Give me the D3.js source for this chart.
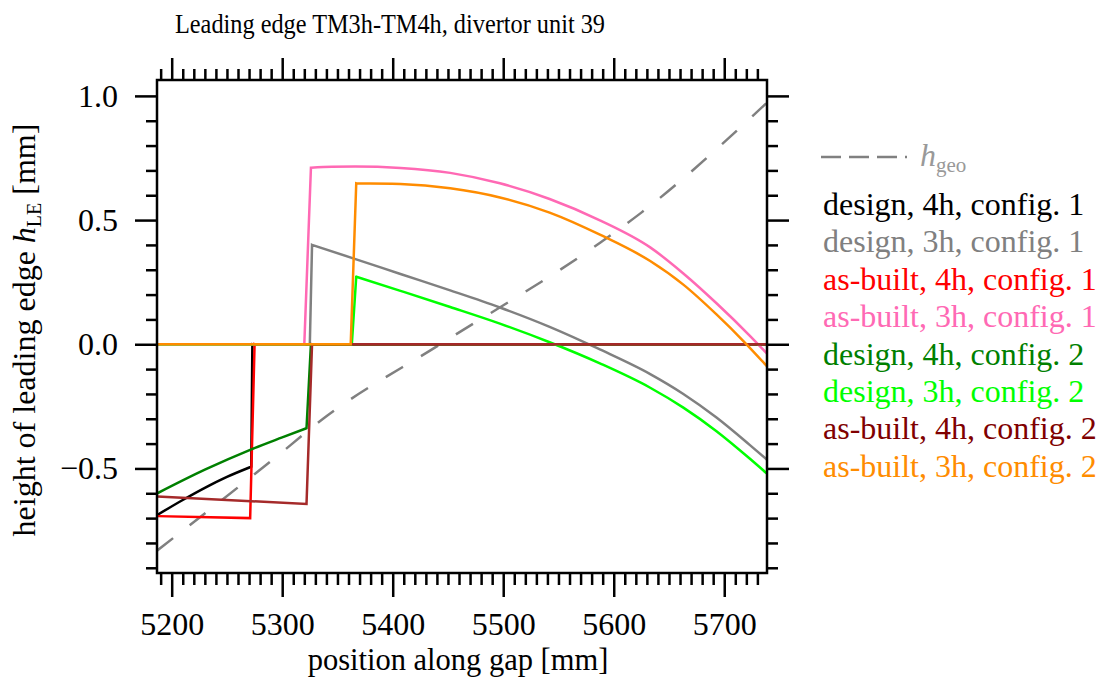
<!DOCTYPE html>
<html>
<head>
<meta charset="utf-8">
<script src="https://cdn.jsdelivr.net/npm/d3@7"></script>
<style>
  body { margin: 0; background: #fff; }
  text { font-family: "Liberation Serif", "Times New Roman", serif; }
</style>
</head>
<body>
<div id="chart"></div>
<script>
// chart size and plot box
const width = 1103;
const height = 678;
const margin = { top: 80, bottom: 105, left: 157, right: 336 };

// tick values
const xMajorTicks = [5200, 5300, 5400, 5500, 5600, 5700];
const yMajorTicks = [-0.5, 0.0, 0.5, 1.0];

// series: [position mm, height mm]
const hGeo = [[5187, -0.83], [5290, -0.47], [5340, -0.29], [5443, 0.0], [5588, 0.41], [5625, 0.53], [5738, 0.97]];
const design4hConfig1 = [[5187, -0.687], [5210, -0.627], [5230, -0.578], [5250, -0.534], [5272, -0.493], [5273, 0.0], [5739, 0.0]];
const design3hConfig1 = [[5187, 0.0], [5325, 0.0], [5327, 0.40], [5367, 0.342], [5407, 0.283], [5452, 0.217], [5497, 0.148], [5542, 0.07], [5588, -0.022], [5633, -0.12], [5663, -0.2], [5693, -0.295], [5723, -0.405], [5739, -0.466]];
const asBuilt4hConfig1 = [[5187, -0.692], [5271, -0.700], [5275, 0.0], [5739, 0.0]];
const asBuilt3hConfig1 = [[5187, 0.0], [5320, 0.0], [5326, 0.711], [5345, 0.715], [5366, 0.716], [5407, 0.71], [5452, 0.69], [5497, 0.648], [5542, 0.585], [5588, 0.498], [5633, 0.39], [5663, 0.285], [5693, 0.165], [5723, 0.035], [5739, -0.039]];
const design4hConfig2 = [[5187, -0.600], [5230, -0.505], [5271, -0.425], [5300, -0.375], [5322, -0.338], [5326, 0.0], [5739, 0.0]];
const design3hConfig2 = [[5187, 0.0], [5363, 0.0], [5367, 0.272], [5407, 0.215], [5452, 0.15], [5497, 0.083], [5542, 0.008], [5588, -0.078], [5633, -0.175], [5663, -0.255], [5693, -0.35], [5723, -0.46], [5739, -0.522]];
const asBuilt4hConfig2 = [[5187, -0.613], [5322, -0.643], [5327, 0.0], [5739, 0.0]];
const asBuilt3hConfig2 = [[5187, 0.0], [5362, 0.0], [5367, 0.648], [5407, 0.645], [5452, 0.628], [5497, 0.591], [5542, 0.53], [5588, 0.44], [5633, 0.335], [5663, 0.24], [5693, 0.12], [5718, 0.01], [5739, -0.09]];

const seriesLabels = ["design, 4h, config. 1", "design, 3h, config. 1", "as-built, 4h, config. 1", "as-built, 3h, config. 1",
                      "design, 4h, config. 2", "design, 3h, config. 2", "as-built, 4h, config. 2", "as-built, 3h, config. 2"];
const seriesData = [design4hConfig1, design3hConfig1, asBuilt4hConfig1, asBuilt3hConfig1,
                    design4hConfig2, design3hConfig2, asBuilt4hConfig2, asBuilt3hConfig2];
const lineColors = ["#000000", "#808080", "#ff0000", "#ff69b4", "#008000", "#00ff00", "#a52a2a", "#ff8c00"];
const textColors = ["#000000", "#808080", "#ff0000", "#ff69b4", "#008000", "#00ff00", "#800000", "#ff8c00"];

const plotW = width - margin.left - margin.right;
const plotH = height - margin.top - margin.bottom;

const svg = d3.select("#chart").append("svg")
    .attr("width", width)
    .attr("height", height);

const g = svg.append("g")
    .attr("transform", "translate(" + margin.left + "," + margin.top + ")");

// scales
const x = d3.scaleLinear().domain([5186.7, 5738.7]).range([0, plotW]);
const y = d3.scaleLinear().domain([-0.921, 1.064]).range([plotH, 0]);

const xMinor = d3.range(5190, 5740, 10).filter(v => xMajorTicks.indexOf(v) < 0);
const yMinor = d3.range(-9, 11).map(v => v / 10).filter(v => yMajorTicks.indexOf(v) < 0);

g.append("defs").append("clipPath").attr("id", "clip")
    .append("rect").attr("width", plotW).attr("height", plotH);

// lines: smooth runs use monotone curve, the steep jumps stay straight
const smooth = d3.line().x(d => x(d[0])).y(d => y(d[1])).curve(d3.curveMonotoneX);
const straight = d3.line().x(d => x(d[0])).y(d => y(d[1]));

function seriesPath(pts) {
  let d = "";
  let run = [pts[0]];
  for (let i = 1; i < pts.length; i++) {
    const steep = Math.abs((pts[i][1] - pts[i - 1][1]) / (pts[i][0] - pts[i - 1][0])) > 0.02;
    if (steep) {
      if (run.length > 1) d += smooth(run).replace(/^M/, d ? "L" : "M");
      d += (d ? "" : straight([pts[i - 1]])) + "L" + x(pts[i][0]) + "," + y(pts[i][1]);
      run = [pts[i]];
    } else {
      run.push(pts[i]);
    }
  }
  if (run.length > 1) d += smooth(run).replace(/^M/, d ? "L" : "M");
  return d;
}

const plot = g.append("g").attr("clip-path", "url(#clip)");

plot.append("path")
    .attr("fill", "none")
    .attr("stroke", "#808080")
    .attr("stroke-width", 2.5)
    .attr("stroke-dasharray", "20,21")
    .attr("d", smooth(hGeo));

plot.selectAll(".series")
    .data(seriesData)
    .enter().append("path")
    .attr("class", "series")
    .attr("fill", "none")
    .attr("stroke", (d, i) => lineColors[i])
    .attr("stroke-width", 2.5)
    .attr("d", seriesPath);

// axes: minor and major ticks on all four sides
function styleAxis(sel) {
  sel.selectAll("line").attr("stroke", "#000").attr("stroke-width", 2.5);
  sel.select(".domain").remove();
}

g.append("g").attr("transform", "translate(0," + plotH + ")")
    .call(d3.axisBottom(x).tickValues(xMinor).tickSize(12).tickFormat(""))
    .call(styleAxis);
const xAx = g.append("g").attr("transform", "translate(0," + plotH + ")")
    .call(d3.axisBottom(x).tickValues(xMajorTicks).tickSize(24).tickPadding(15).tickFormat(d3.format("d")))
    .call(styleAxis);
xAx.selectAll("text").attr("fill", "#000").style("font-size", "32px");

g.append("g")
    .call(d3.axisTop(x).tickValues(xMinor).tickSize(11).tickFormat(""))
    .call(styleAxis);
g.append("g")
    .call(d3.axisTop(x).tickValues(xMajorTicks).tickSize(22).tickFormat(""))
    .call(styleAxis);

g.append("g")
    .call(d3.axisLeft(y).tickValues(yMinor).tickSize(11).tickFormat(""))
    .call(styleAxis);
const yAx = g.append("g")
    .call(d3.axisLeft(y).tickValues(yMajorTicks).tickSize(22).tickPadding(17).tickFormat(d3.format(".1f")))
    .call(styleAxis);
yAx.selectAll("text").attr("fill", "#000").style("font-size", "32px");

g.append("g").attr("transform", "translate(" + plotW + ",0)")
    .call(d3.axisRight(y).tickValues(yMinor).tickSize(11).tickFormat(""))
    .call(styleAxis);
g.append("g").attr("transform", "translate(" + plotW + ",0)")
    .call(d3.axisRight(y).tickValues(yMajorTicks).tickSize(22).tickFormat(""))
    .call(styleAxis);

// frame
g.append("rect")
    .attr("width", plotW)
    .attr("height", plotH)
    .attr("fill", "none")
    .attr("stroke", "#000")
    .attr("stroke-width", 2.5);

// title
svg.append("text")
    .attr("x", 390)
    .attr("y", 33)
    .attr("text-anchor", "middle")
    .attr("textLength", 430)
    .attr("lengthAdjust", "spacingAndGlyphs")
    .style("font-size", "27px")
    .text("Leading edge TM3h-TM4h, divertor unit 39");

// x label
svg.append("text")
    .attr("x", 458)
    .attr("y", 670)
    .attr("text-anchor", "middle")
    .style("font-size", "30.5px")
    .text("position along gap [mm]");

// y label
const yLabel = svg.append("text")
    .attr("transform", "translate(35,330) rotate(-90)")
    .attr("text-anchor", "middle")
    .style("font-size", "32px");
yLabel.append("tspan").text("height of leading edge ");
yLabel.append("tspan").style("font-style", "italic").text("h");
yLabel.append("tspan").attr("dy", 6).style("font-size", "20px").text("LE");
yLabel.append("tspan").attr("dy", -6).text(" [mm]");

// legend
const legend = svg.append("g").attr("transform", "translate(821,157)");
legend.append("line")
    .attr("x1", 0).attr("x2", 86)
    .attr("stroke", "#808080")
    .attr("stroke-width", 2.5)
    .attr("stroke-dasharray", "20,8");
const geoLabel = legend.append("text")
    .attr("x", 99).attr("y", 9)
    .attr("fill", "#999")
    .style("font-size", "32px");
geoLabel.append("tspan").style("font-style", "italic").text("h");
geoLabel.append("tspan").attr("dy", 6).style("font-size", "21px").text("geo");

legend.selectAll(".entry")
    .data(seriesLabels)
    .enter().append("text")
    .attr("class", "entry")
    .attr("x", 2)
    .attr("y", (d, i) => 58 + i * 37.4)
    .attr("fill", (d, i) => textColors[i])
    .style("font-size", "32px")
    .text(d => d);
</script>
</body>
</html>
